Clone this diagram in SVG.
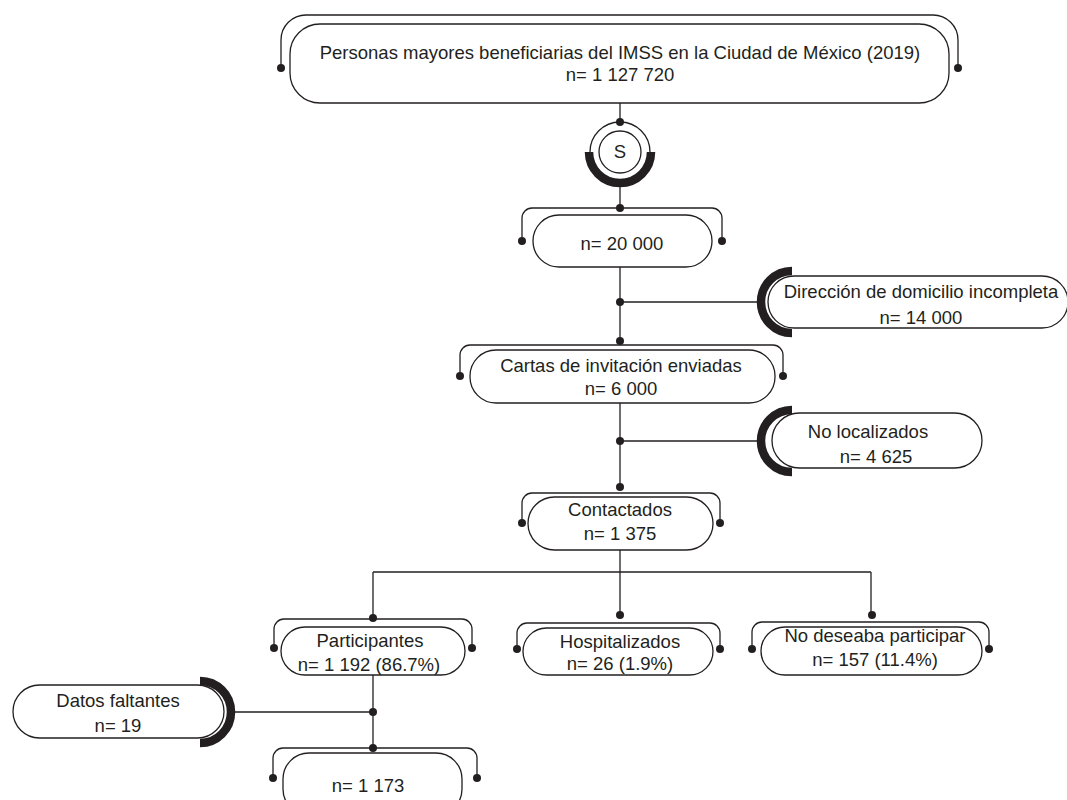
<svg xmlns="http://www.w3.org/2000/svg" width="1067" height="800" viewBox="0 0 1067 800">
<style>
.box{fill:#fff;stroke:#231f20;stroke-width:1.3}
.br{fill:none;stroke:#231f20;stroke-width:1.3}
.ln{fill:none;stroke:#231f20;stroke-width:1.3}
.dot{fill:#231f20}
.thick{fill:none;stroke:#231f20;stroke-width:8.5}
text{font-family:"Liberation Sans",Arial,sans-serif;font-size:18.5px;fill:#231f20;text-anchor:middle}
</style>
<rect width="1067" height="800" fill="#fff"/>
<g id="connectors">
<path class="ln" d="M620,103 V122"/>
<path class="ln" d="M620,183 V208"/>
<path class="ln" d="M620,267 V343"/>
<path class="ln" d="M620,302 H758"/>
<path class="ln" d="M620,403 V489"/>
<path class="ln" d="M620,441 H758"/>
<path class="ln" d="M620,550 V615"/>
<path class="ln" d="M373,572 H871"/>
<path class="ln" d="M373,572 V618"/>
<path class="ln" d="M871,572 V615"/>
<path class="ln" d="M373,675 V748"/>
<path class="ln" d="M234,712 H373"/>
<circle class="dot" cx="620" cy="122" r="4"/>
<circle class="dot" cx="620" cy="208" r="4"/>
<circle class="dot" cx="620" cy="302" r="4"/>
<circle class="dot" cx="620" cy="341" r="4"/>
<circle class="dot" cx="620" cy="441" r="4"/>
<circle class="dot" cx="620" cy="487" r="4"/>
<circle class="dot" cx="373" cy="618" r="4"/>
<circle class="dot" cx="620" cy="615" r="4"/>
<circle class="dot" cx="872" cy="615" r="4"/>
<circle class="dot" cx="373" cy="712" r="4"/>
<circle class="dot" cx="373" cy="748" r="4"/>
</g>
<g id="n-poblacion">
<path class="br" d="M281,68 V40 A25,25 0 0 1 306,15 H933 A25,25 0 0 1 958,40 V68"/>
<circle class="dot" cx="281" cy="68" r="4"/>
<circle class="dot" cx="958" cy="68" r="4"/>
<rect class="box" x="290" y="24" width="659" height="79" rx="30"/>
<text x="620" y="59">Personas mayores beneficiarias del IMSS en la Ciudad de México (2019)</text>
<text x="620" y="81">n= 1 127 720</text>
</g>
<g id="n-s">
<circle class="ln" cx="620" cy="152" r="30"/>
<path class="thick" d="M589,152 A31,31 0 0 0 651,152"/>
<circle class="box" cx="620" cy="152" r="21"/>
<text x="620" y="158">S</text>
</g>
<g id="n-20000">
<path class="br" d="M522,241 V218 A10,10 0 0 1 532,208 H712 A10,10 0 0 1 722,218 V241"/>
<circle class="dot" cx="522" cy="241" r="4"/>
<circle class="dot" cx="722" cy="241" r="4"/>
<rect class="box" x="533" y="215" width="179" height="52" rx="26"/>
<text x="622" y="250">n= 20 000</text>
</g>
<g id="n-direccion">
<path class="thick" d="M792,271 A31,31 0 0 0 792,333"/>
<rect class="box" x="768" y="276" width="300" height="52" rx="26"/>
<text x="921" y="298">Dirección de domicilio incompleta</text>
<text x="921" y="324">n= 14 000</text>
</g>
<g id="n-cartas">
<path class="br" d="M460,376 V355 A10,10 0 0 1 470,345 H773 A10,10 0 0 1 783,355 V376"/>
<circle class="dot" cx="460" cy="376" r="4"/>
<circle class="dot" cx="783" cy="376" r="4"/>
<rect class="box" x="470" y="350" width="305" height="53" rx="26"/>
<text x="621" y="372">Cartas de invitación enviadas</text>
<text x="621" y="395">n= 6 000</text>
</g>
<g id="n-nolocalizados">
<path class="thick" d="M792,410 A31,31 0 0 0 792,472"/>
<rect class="box" x="772" y="413" width="210" height="55" rx="27.5"/>
<text x="868" y="438">No localizados</text>
<text x="876" y="463">n= 4 625</text>
</g>
<g id="n-contactados">
<path class="br" d="M522,523 V503 A10,10 0 0 1 532,493 H710 A10,10 0 0 1 720,503 V523"/>
<circle class="dot" cx="522" cy="523" r="4"/>
<circle class="dot" cx="720" cy="523" r="4"/>
<rect class="box" x="528" y="497" width="185" height="53" rx="26.5"/>
<text x="620" y="516">Contactados</text>
<text x="620" y="540">n= 1 375</text>
</g>
<g id="n-participantes">
<path class="br" d="M274,648 V629 A10,10 0 0 1 284,619 H462 A10,10 0 0 1 472,629 V648"/>
<circle class="dot" cx="274" cy="648" r="4"/>
<circle class="dot" cx="472" cy="648" r="4"/>
<rect class="box" x="281" y="627" width="184" height="48" rx="24"/>
<text x="370" y="647">Participantes</text>
<text x="369" y="671">n= 1 192 (86.7%)</text>
</g>
<g id="n-hospitalizados">
<path class="br" d="M517,649 V633 A10,10 0 0 1 527,623 H710 A10,10 0 0 1 720,633 V649"/>
<circle class="dot" cx="517" cy="649" r="4"/>
<circle class="dot" cx="720" cy="649" r="4"/>
<rect class="box" x="523" y="628" width="190" height="47" rx="23.5"/>
<text x="620" y="648">Hospitalizados</text>
<text x="620" y="670">n= 26 (1.9%)</text>
</g>
<g id="n-nodeseaba">
<path class="br" d="M752,649 V632 A10,10 0 0 1 762,622 H979 A10,10 0 0 1 989,632 V649"/>
<circle class="dot" cx="752" cy="649" r="4"/>
<circle class="dot" cx="989" cy="649" r="4"/>
<rect class="box" x="761" y="627" width="221" height="48" rx="24"/>
<text x="875" y="642">No deseaba participar</text>
<text x="875" y="666">n= 157 (11.4%)</text>
</g>
<g id="n-datosfaltantes">
<path class="thick" d="M200,681 A31,31 0 0 1 200,743"/>
<rect class="box" x="13" y="685" width="211" height="53" rx="26.5"/>
<text x="118" y="707">Datos faltantes</text>
<text x="118" y="732">n= 19</text>
</g>
<g id="n-final">
<path class="br" d="M273,778 V758 A10,10 0 0 1 283,748 H467 A10,10 0 0 1 477,758 V778"/>
<circle class="dot" cx="273" cy="778" r="4"/>
<circle class="dot" cx="477" cy="778" r="4"/>
<rect class="box" x="283" y="753" width="179" height="62" rx="26"/>
<text x="368" y="792">n= 1 173</text>
</g>
</svg>
